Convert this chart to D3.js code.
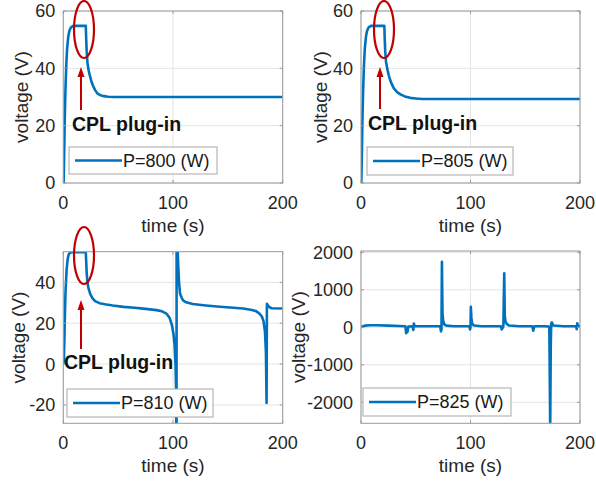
<!DOCTYPE html>
<html>
<head>
<meta charset="utf-8">
<script src="https://cdn.jsdelivr.net/npm/d3@7"></script>
<style>
  html, body { margin: 0; padding: 0; background: #fff; }
  svg { display: block; }
  text { font-family: "Liberation Sans", Arial, Helvetica, sans-serif; }
</style>
</head>
<body>
<svg id="chart" width="596" height="485"></svg>
<script>
// ---------- DATA ----------
const xTicks = [0, 100, 200];
const yTicksA = [0, 20, 40, 60];
const yTicksB = [0, 20, 40, 60];
const yTicksC = [-20, 0, 20, 40];
const yTicksD = [-2000, -1000, 0, 1000, 2000];

const legendLabels = ["P=800 (W)", "P=805 (W)", "P=810 (W)", "P=825 (W)"];
const annotationText = "CPL plug-in";
const xLabel = "time (s)";
const yLabel = "voltage (V)";

// P = 800 W
const time800 = [0.3, 0.8, 1.3, 2, 2.7, 3.5, 4.5, 5.5, 7, 9, 20.5, 20.8, 21.3, 22, 23, 24, 25.5, 27, 29, 31, 34, 37, 41, 46, 52, 60, 100, 150, 200];
const volt800 = [0, 10, 22, 33, 41, 47, 51, 53, 54.3, 54.8, 54.8, 51, 46, 42, 39.5, 37.8, 35.6, 34, 32.4, 31.3, 30.6, 30.3, 30.1, 30, 30, 30, 30, 30, 30];

// P = 805 W
const time805 = [0.3, 0.8, 1.3, 2, 2.7, 3.5, 4.5, 5.5, 7, 9, 21.3, 21.6, 22.1, 22.8, 24, 25.5, 27.5, 30, 33, 36, 40, 45, 50, 56, 100, 150, 200];
const volt805 = [0, 10, 22, 33, 41, 47, 51, 53, 54.3, 54.8, 54.8, 51, 46, 42.5, 39.8, 37.3, 35, 33, 31.7, 30.9, 30.2, 29.7, 29.5, 29.3, 29.3, 29.3, 29.3];

// P = 810 W
const time810 = [0, 0.5, 1, 1.5, 2, 3, 4, 5, 6.5, 8, 20.5, 20.8, 21.3, 22, 23, 24.5, 26.5, 29, 33, 38, 45, 55, 65, 75, 85, 90, 94, 97, 99, 100.5, 101.5, 102.3, 102.8, 103.1, 103.2, 103.3, 104, 104.8, 105.5, 106.4, 108, 109.5, 112, 118, 130, 140, 152, 164, 172, 176, 179, 181, 182.5, 183.8, 184.7, 185.3, 185.6, 186.5, 188, 190, 200];
const volt810 = [0, 2, 12, 25, 35, 46, 51.5, 53.8, 54.6, 54.7, 54.7, 51, 45, 40, 37, 34.3, 32.3, 30.8, 29.8, 29.3, 28.7, 28, 27.6, 27, 26.4, 25.8, 24.7, 22.5, 19, 14.5, 9, 0, -12, -40, -80, 90, 60, 48, 40, 34.5, 32.3, 31, 30.2, 29.4, 28.7, 28.2, 27.7, 27.2, 26.5, 25.8, 24.6, 23.3, 21, 16, 6, -19, 29.5, 28.8, 27.8, 27.3, 27.2];

// P = 825 W
const time825 = [0, 1, 2, 4, 8, 15, 25, 35, 40.5, 41.3, 41.8, 42.5, 43.2, 47, 47.8, 48.3, 49, 55, 65, 72.3, 73, 73.5, 73.9, 74.4, 75, 76, 78, 85, 95, 99, 99.6, 100, 100.3, 100.8, 101.5, 103, 110, 120, 127.8, 128.5, 129.2, 130, 130.8, 131.3, 132, 133, 135, 145, 156.5, 157.3, 158, 159, 168, 171.5, 172, 172.8, 173.3, 173.7, 174.3, 175.5, 185, 196.5, 197, 197.5, 198, 200];
const volt825 = [0, 15, 30, 45, 55, 55, 45, 35, 30, -160, -40, -120, 20, 25, -70, 100, 30, 30, 30, 30, -110, -60, 1750, 400, 180, 80, 45, 30, 30, 30, -60, 0, 550, 250, 100, 50, 30, 30, 30, -55, -20, 20, 1440, 300, 150, 90, 50, 30, 30, -90, 10, 30, 30, 20, -30, -2700, -500, 100, 130, 50, 30, 30, -50, 110, 20, 40];

// ---------- DRAW ----------
const svg = d3.select("#chart");
const blue = "#0072BD";
const red = "#C00000";
const boxColor = "#9a9a9a";
const gridColor = "#e4e4e4";
const textColor = "#262626";

const panels = [
  { t: time800, v: volt800, yTicks: yTicksA, yDom: [0, 60],
    x0: 63.3, x1: 282.7, y0: 183, y1: 11, ylabX: 21,
    leg: { x: 69, y: 147, w: 148, h: 27 }, label: legendLabels[0],
    ann: { ex: 84, ey: 29.5, rx: 10, ry: 28.5, ax: 81, ay0: 110, ay1: 67, tx: 72, ty: 131 } },
  { t: time805, v: volt805, yTicks: yTicksB, yDom: [0, 60],
    x0: 361, x1: 580, y0: 183, y1: 11, ylabX: 320,
    leg: { x: 367, y: 147, w: 146, h: 28 }, label: legendLabels[1],
    ann: { ex: 384, ey: 29.5, rx: 10, ry: 28.5, ax: 380, ay0: 109, ay1: 67, tx: 368, ty: 130 } },
  { t: time810, v: volt810, yTicks: yTicksC, yDom: [-29, 55],
    x0: 63.3, x1: 282.7, y0: 423.3, y1: 251.7, ylabX: 18,
    leg: { x: 67, y: 389, w: 146, h: 28 }, label: legendLabels[2],
    ann: { ex: 84, ey: 255.5, rx: 10, ry: 28.5, ax: 81, ay0: 349, ay1: 300, tx: 64, ty: 369 } },
  { t: time825, v: volt825, yTicks: yTicksD, yDom: [-2560, 2035],
    x0: 361, x1: 580, y0: 423.3, y1: 251, ylabX: 298,
    leg: { x: 363, y: 388, w: 148, h: 28 }, label: legendLabels[3],
    ann: null }
];

panels.forEach((p, i) => {
  const g = svg.append("g");
  const x = d3.scaleLinear().domain([0, 200]).range([p.x0, p.x1]);
  const y = d3.scaleLinear().domain(p.yDom).range([p.y0, p.y1]);
  const w = p.x1 - p.x0, h = p.y0 - p.y1;

  // grid
  g.selectAll(".gx").data(xTicks).enter().append("line")
    .attr("x1", d => x(d)).attr("x2", d => x(d))
    .attr("y1", p.y1).attr("y2", p.y0)
    .attr("stroke", gridColor).attr("stroke-width", 1);
  g.selectAll(".gy").data(p.yTicks).enter().append("line")
    .attr("x1", p.x0).attr("x2", p.x1)
    .attr("y1", d => y(d)).attr("y2", d => y(d))
    .attr("stroke", gridColor).attr("stroke-width", 1);

  // clip
  const cid = "clip" + i;
  svg.append("defs").append("clipPath").attr("id", cid)
    .append("rect").attr("x", p.x0).attr("y", p.y1).attr("width", w).attr("height", h);

  const data = d3.zip(p.t, p.v);
  const line = d3.line().x(d => x(d[0])).y(d => y(d[1]));
  g.append("path").datum(data)
    .attr("clip-path", `url(#${cid})`)
    .attr("d", line)
    .attr("fill", "none").attr("stroke", blue)
    .attr("stroke-width", 2.6).attr("stroke-linejoin", "round");

  // box
  g.append("rect").attr("x", p.x0).attr("y", p.y1).attr("width", w).attr("height", h)
    .attr("fill", "none").attr("stroke", boxColor).attr("stroke-width", 1);

  // ticks (inward, both sides)
  const tl = 3;
  xTicks.forEach(d => {
    g.append("line").attr("x1", x(d)).attr("x2", x(d)).attr("y1", p.y0).attr("y2", p.y0 - tl).attr("stroke", boxColor);
    g.append("line").attr("x1", x(d)).attr("x2", x(d)).attr("y1", p.y1).attr("y2", p.y1 + tl).attr("stroke", boxColor);
  });
  p.yTicks.forEach(d => {
    g.append("line").attr("x1", p.x0).attr("x2", p.x0 + tl).attr("y1", y(d)).attr("y2", y(d)).attr("stroke", boxColor);
    g.append("line").attr("x1", p.x1).attr("x2", p.x1 - tl).attr("y1", y(d)).attr("y2", y(d)).attr("stroke", boxColor);
  });

  // tick labels
  g.selectAll(".xt").data(xTicks).enter().append("text")
    .attr("x", d => x(d)).attr("y", p.y0 + 25.5)
    .attr("text-anchor", "middle").attr("font-size", 18).attr("fill", textColor)
    .text(d => d);
  g.selectAll(".yt").data(p.yTicks).enter().append("text")
    .attr("x", p.x0 - 8).attr("y", d => y(d)).attr("dy", "0.36em")
    .attr("text-anchor", "end").attr("font-size", 18).attr("fill", textColor)
    .text(d => d);

  // axis labels
  g.append("text").attr("x", (p.x0 + p.x1) / 2).attr("y", p.y0 + 49)
    .attr("text-anchor", "middle").attr("font-size", 19).attr("fill", textColor)
    .text(xLabel);
  g.append("text")
    .attr("transform", `translate(${p.ylabX},${(p.y0 + p.y1) / 2}) rotate(-90)`)
    .attr("dy", "0.36em")
    .attr("text-anchor", "middle").attr("font-size", 19).attr("fill", textColor)
    .text(yLabel);

  // legend
  const L = p.leg;
  g.append("rect").attr("x", L.x).attr("y", L.y).attr("width", L.w).attr("height", L.h)
    .attr("fill", "#fff").attr("stroke", "#a8a8a8").attr("stroke-width", 1);
  g.append("line").attr("x1", L.x + 6).attr("x2", L.x + 53)
    .attr("y1", L.y + L.h / 2).attr("y2", L.y + L.h / 2)
    .attr("stroke", blue).attr("stroke-width", 2.6);
  g.append("text").attr("x", L.x + 54).attr("y", L.y + L.h / 2).attr("dy", "0.36em")
    .attr("font-size", 18).attr("fill", "#1a1a1a").text(p.label);

  // annotation
  if (p.ann) {
    const a = p.ann;
    svg.append("ellipse").attr("cx", a.ex).attr("cy", a.ey).attr("rx", a.rx).attr("ry", a.ry)
      .attr("fill", "none").attr("stroke", red).attr("stroke-width", 2.2);
    svg.append("line").attr("x1", a.ax).attr("x2", a.ax).attr("y1", a.ay0).attr("y2", a.ay1 + 8)
      .attr("stroke", red).attr("stroke-width", 2);
    svg.append("path")
      .attr("d", `M${a.ax},${a.ay1} L${a.ax - 3.5},${a.ay1 + 10} L${a.ax + 3.5},${a.ay1 + 10} Z`)
      .attr("fill", red);
    svg.append("text").attr("x", a.tx).attr("y", a.ty)
      .attr("font-size", 19.5).attr("font-weight", "bold").attr("fill", "#111")
      .text(annotationText);
  }
});
</script>
</body>
</html>
